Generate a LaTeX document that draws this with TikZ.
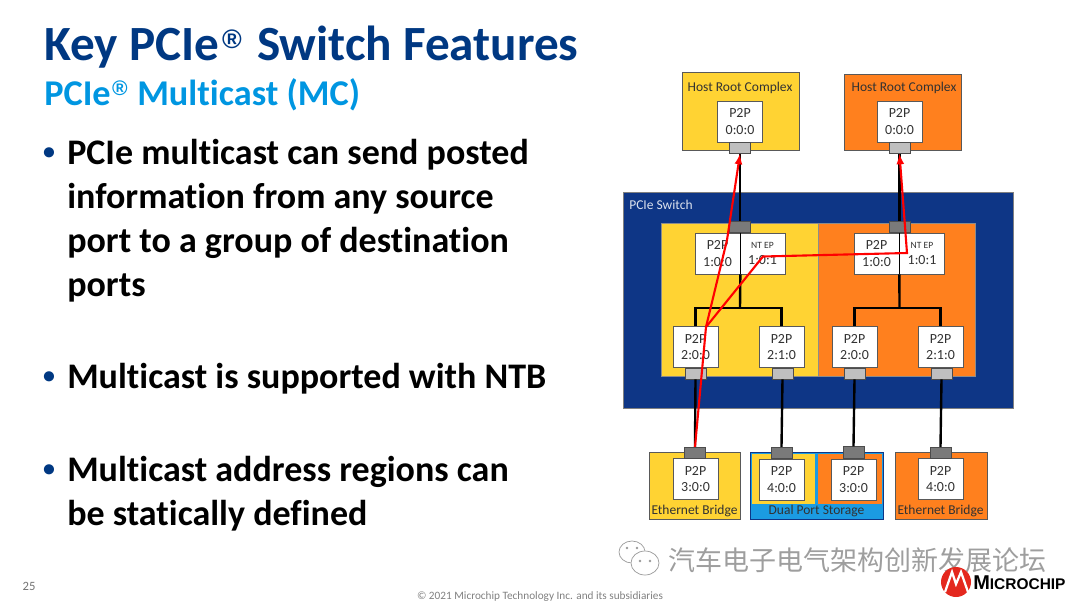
\documentclass[tikz,border=0pt]{standalone}
\usepackage{fontspec}
\setmainfont[Ligatures=NoCommon]{Carlito}
\newfontfamily\cjkfont{Noto Sans CJK SC}
\newfontfamily\logofont{Liberation Sans}
\usepackage{xcolor}
\definecolor{titleBlue}{RGB}{0,56,130}
\definecolor{subBlue}{RGB}{0,150,225}
\definecolor{switchBlue}{RGB}{14,54,134}
\definecolor{hostYellow}{RGB}{255,211,51}
\definecolor{hostOrange}{RGB}{255,128,30}
\definecolor{storageBlue}{RGB}{27,155,226}
\definecolor{labelInk}{RGB}{50,50,50}
\definecolor{logoRed}{RGB}{228,40,30}
\usepackage{tikz}
\usetikzlibrary{arrows,shapes,positioning,calc}
\tikzstyle{panel}=[draw=black!65, line width=0.5pt, inner sep=0pt]
\tikzstyle{region}=[draw=black!45, line width=0.4pt, inner sep=0pt]
\tikzstyle{bridge}=[panel, minimum width=1.125cm, minimum height=1.025cm, fill=white, align=center,
  text=labelInk, font=\fontsize{9.9}{12}\selectfont]
\tikzstyle{portlow}=[draw=black!70, line width=0.5pt, fill=black!25, minimum width=0.53cm, minimum height=0.28cm, inner sep=0pt]
\tikzstyle{porthigh}=[draw=black!70, line width=0.5pt, fill=black!52, minimum width=0.53cm, minimum height=0.29cm, inner sep=0pt]
\tikzstyle{caption}=[text=labelInk, font=\fontsize{9.6}{12}\selectfont, inner sep=0pt]
\tikzstyle{link}=[black, line width=1.7pt]
\tikzstyle{flow}=[red, line width=1.5pt]
\tikzstyle{bodytext}=[anchor=west, align=left, inner sep=0pt, font=\bfseries\fontsize{25.6}{31.3}\selectfont]
\tikzstyle{dot}=[anchor=center, inner sep=0pt, text=titleBlue, font=\bfseries\fontsize{17}{20}\selectfont]

\begin{document}
\begin{tikzpicture}[x=0.025cm, y=-0.025cm]
  \useasboundingbox (0,0) rectangle (1080,608);

  % slide text
  \node[anchor=base west, inner sep=0pt, text=titleBlue, font=\bfseries\fontsize{35}{40}\selectfont] (title)
    at (44,60) {Key PCIe\hspace{2pt}\raisebox{8.5pt}{\logofont\fontsize{19}{22}\selectfont ®}\hspace{3pt} Switch Features};
  \node[anchor=base west, inner sep=0pt, text=subBlue, font=\bfseries\fontsize{25.8}{30}\selectfont] (subtitle)
    at (44,105) {PCIe\hspace{1pt}\raisebox{7pt}{\logofont\fontsize{15}{18}\selectfont ®}\hspace{1pt} Multicast (MC)};
  \node[dot] (dotA) at (49,154) {•};
  \node[bodytext] (bodyA) at (67,220.5) {PCIe multicast can send posted\\information from any source\\port to a group of destination\\ports};
  \node[dot] (dotB) at (49,378) {•};
  \node[bodytext] (bodyB) at (67,378.5) {Multicast is supported with NTB};
  \node[dot] (dotC) at (49,471) {•};
  \node[bodytext] (bodyC) at (67,493.5) {Multicast address regions can\\be statically defined};
  \node[text=black!55, font=\fontsize{9}{11}\selectfont, inner sep=0pt] (pageno) at (29,586) {25};
  \node[text=black!50, font=\fontsize{8}{9}\selectfont, inner sep=0pt] (legal) at (540,597)
    {© 2021 Microchip Technology Inc. and its subsidiaries};

  % hosts
  \node[panel, fill=hostYellow, minimum width=2.925cm, minimum height=1.95cm] (hostL) at (740.5,111) {};
  \node[panel, fill=hostOrange, minimum width=2.925cm, minimum height=1.9cm] (hostR) at (902.5,112) {};
  \node[caption] (hostLabelL) at (740,87.5) {Host Root Complex};
  \node[caption] (hostLabelR) at (904,87.5) {Host Root Complex};
  \node[bridge] (rootL) at (740,121.5) {P2P\\0:0:0};
  \node[bridge] (rootR) at (899.5,121.5) {P2P\\0:0:0};
  \node[portlow] (rootPortL) at (740,148) {};
  \node[portlow] (rootPortR) at (899.5,148) {};

  % switch
  \node[fill=switchBlue, draw=black!50, line width=0.4pt, minimum width=9.75cm, minimum height=5.4cm, inner sep=0pt] (switch) at (818,300) {};
  \node[anchor=west, inner sep=0pt, text=white!85!switchBlue, font=\fontsize{9.6}{12}\selectfont] (switchLabel) at (629,205) {PCIe Switch};
  \node[region, fill=hostYellow, minimum width=3.925cm, minimum height=3.825cm] (zoneL) at (739.5,299.5) {};
  \node[region, fill=hostOrange, minimum width=3.925cm, minimum height=3.825cm] (zoneR) at (896.5,299.5) {};

  \node[bridge] (upL) at (717.5,253.5) {P2P\\1:0:0};
  \node[bridge] (ntL) at (762.5,253.5) {{\fontsize{6.8}{8}\selectfont NT EP}\\1:0:1};
  \node[bridge] (upR) at (876.5,253.5) {P2P\\1:0:0};
  \node[bridge] (ntR) at (922,253.5) {{\fontsize{6.8}{8}\selectfont NT EP}\\1:0:1};
  \node[porthigh] (upPortL) at (740,227) {};
  \node[porthigh] (upPortR) at (899.5,227) {};

  \node[bridge] (downLa) at (695.5,347) {P2P\\2:0:0};
  \node[bridge] (downLb) at (781.5,347) {P2P\\2:1:0};
  \node[bridge] (downRa) at (854.5,347) {P2P\\2:0:0};
  \node[bridge] (downRb) at (940.5,347) {P2P\\2:1:0};
  \node[portlow] (downPortLa) at (695.5,373.5) {};
  \node[portlow] (downPortLb) at (782.5,373.5) {};
  \node[portlow] (downPortRa) at (854.5,373.5) {};
  \node[portlow] (downPortRb) at (941.5,373.5) {};

  % endpoints
  \node[panel, fill=hostYellow, minimum width=2.275cm, minimum height=1.675cm] (devA) at (694.5,485.5) {};
  \node[panel, draw=switchBlue, fill=storageBlue, minimum width=3.325cm, minimum height=1.675cm] (devB) at (816.5,485.5) {};
  \node[inner sep=0pt, fill=hostYellow, minimum width=1.575cm, minimum height=1.25cm] (devBa) at (783.5,479) {};
  \node[inner sep=0pt, fill=hostOrange, minimum width=1.6cm, minimum height=1.25cm] (devBb) at (850,479) {};
  \node[panel, fill=hostOrange, minimum width=2.3cm, minimum height=1.675cm] (devC) at (941,485.5) {};
  \node[bridge] (epA) at (695.5,479) {P2P\\3:0:0};
  \node[bridge] (epB) at (781.5,479.5) {P2P\\4:0:0};
  \node[bridge] (epC) at (853.5,479.5) {P2P\\3:0:0};
  \node[bridge] (epD) at (940.5,479) {P2P\\4:0:0};
  \node[porthigh] (epPortA) at (695,453) {};
  \node[porthigh] (epPortB) at (781.5,453) {};
  \node[porthigh] (epPortC) at (853.5,452.5) {};
  \node[porthigh] (epPortD) at (940.5,453) {};
  \node[caption] (devLabelA) at (694.5,511) {Ethernet Bridge};
  \node[caption] (devLabelB) at (816.5,511) {Dual Port Storage};
  \node[caption] (devLabelC) at (940.5,511) {Ethernet Bridge};

  % black links
  \coordinate (busL) at (740,308);
  \coordinate (busR) at (899.5,308);
  \draw[link] (rootPortL.south) -- (upPortL.north);
  \draw[link] (rootPortR.south) -- (upPortR.north);
  \draw[link] (upL.south east) -- (busL);
  \draw[link] (upR.south east) -- (busR);
  \draw[link] (downLa.north) |- (busL) -| (downLb.north);
  \draw[link] (downRa.north) |- (busR) -| (downRb.north);
  \draw[link, line width=1.2pt] (upL.north east) -- (upL.south east);
  \draw[link, line width=1.2pt] (upR.north east) -- (upR.south east);
  \draw[link] (downPortLa.south) -- (epPortA.north);
  \draw[link] (downPortLb.south) -- (epPortB.north);
  \draw[link] (downPortRa.south) -- (epPortC.north);
  \draw[link] (downPortRb.south) -- (epPortD.north);

  % multicast path
  \coordinate (fork) at (706,327);
  \coordinate (bendA) at (727,240);
  \coordinate (bendB) at (763,256.5);
  \coordinate (bendC) at (907,253);
  \draw[flow, -latex] (epPortA.north) -- (fork) -- (bendA) -- (rootPortL.south);
  \draw[flow, -latex] (fork) -- (bendB) -- (bendC) -- (rootPortR.south);

  % watermark
  \node[anchor=west, inner sep=0pt, text=black!38, font=\cjkfont\fontsize{19.2}{22}\selectfont] (mark) at (668,560) {汽车电子电气架构创新发展论坛};
  \draw[black!40, line width=0.5pt] (632,552) ellipse (13 and 11);
  \draw[white, fill=white, line width=0.5pt] (645,563) ellipse (14 and 12);
  \draw[black!40, line width=0.5pt] (645,563) ellipse (14 and 12);
  \fill[black!40] (627,548) circle (1.4) (637,548) circle (1.4) (640,561) circle (1.3) (650,561) circle (1.3);

  % logo
  \fill[logoRed] (956,582) circle (15);
  \draw[white, line width=1.6pt] (945,592) -- (952,572) -- (956,584) -- (961,572) -- (968,592);
  \node[anchor=west, inner sep=0pt, font=\logofont\bfseries\fontsize{14.2}{17}\selectfont] (logoText) at (973,582.5)
    {M{\fontsize{11}{14}\selectfont ICROCHIP}};
\end{tikzpicture}
\end{document}
